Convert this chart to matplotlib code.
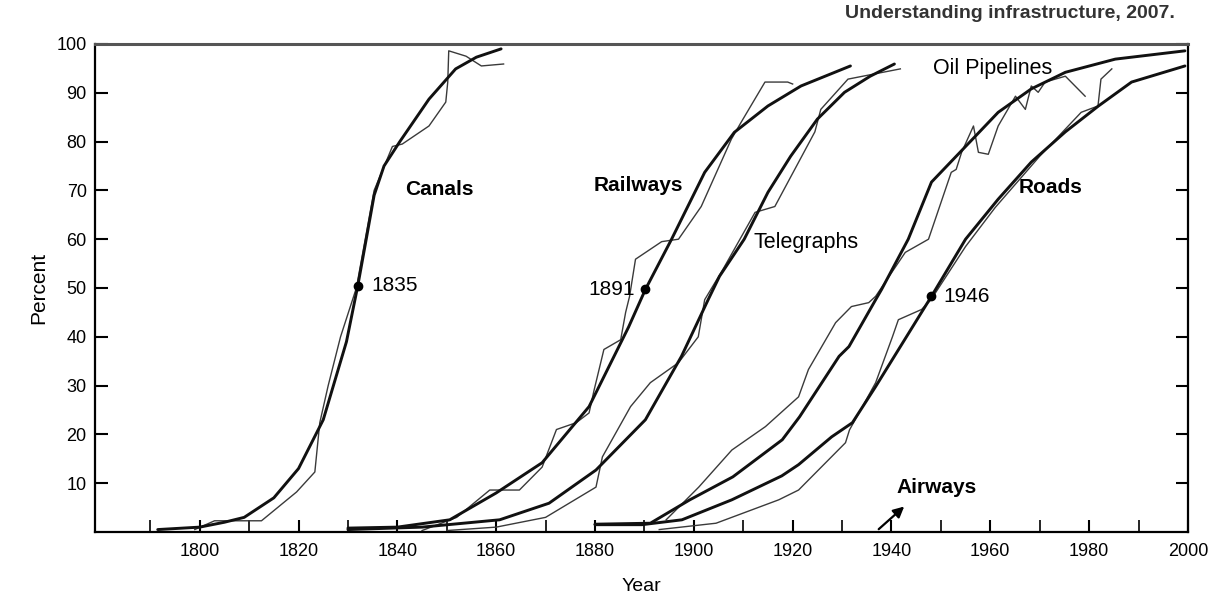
import numpy as np
import matplotlib
matplotlib.use('Agg')
import matplotlib.pyplot as plt

plt.rcParams['font.family'] = ['Liberation Sans', 'DejaVu Sans']

# Curvas ajustadas (trazo grueso) y datos observados (trazo fino), en % del maximo
canals_fit_year = [1791.5, 1800, 1805, 1809, 1815, 1820, 1825, 1829.7, 1832, 1833.7, 1835.3, 1837.3, 1840.5, 1846.4, 1851.8, 1856, 1861]
canals_fit_pct = [0.5, 1, 2, 3, 7, 13, 23, 39, 50.5, 60, 69, 75, 80, 88.7, 94.9, 97.3, 99]
canals_obs_year = [1799, 1803, 1812.5, 1819.6, 1823.3, 1824.3, 1826, 1828.5, 1831.7, 1833.5, 1835.3, 1839, 1841,
                   1846.4, 1849.8, 1850.2, 1850.4, 1853.9, 1857, 1861.5]
canals_obs_pct = [0.5, 2.3, 2.3, 8.2, 12.3, 22.4, 30, 40, 50, 60, 70, 79, 79.5,
                  83.2, 88.1, 92.2, 98.6, 97.5, 95.5, 95.9]

rail_fit_year = [1830, 1840, 1850.6, 1860, 1869.3, 1878.8, 1886.8, 1890.2, 1895.5, 1902.2, 1908.2, 1915, 1921.7, 1931.7]
rail_fit_pct = [0.8, 1, 2.5, 8, 14.2, 25.7, 42, 49.7, 60, 73.7, 81.9, 87.3, 91.4, 95.5]
rail_obs_year = [1845, 1852, 1858.7, 1864.7, 1869.3, 1872.2, 1876.2, 1878.8, 1879.8, 1881.8, 1885.2, 1886.2, 1887,
                 1888.2, 1893.5, 1896.9, 1901.5, 1907.6, 1909.6, 1914.4, 1919, 1920]
rail_obs_pct = [0.3, 3, 8.6, 8.6, 13.3, 21, 22.4, 24.4, 29, 37.4, 39.4, 45, 48.3,
                55.9, 59.5, 60, 66.7, 80.5, 84, 92.2, 92.2, 91.8]

tel_fit_year = [1830, 1845, 1860.7, 1870.7, 1880.2, 1890.2, 1897.5, 1902.9, 1905.2, 1910.2, 1915, 1919.6, 1925, 1930.5, 1935.7, 1940.6]
tel_fit_pct = [0.5, 1, 2.5, 5.9, 12.7, 23, 36, 47.6, 52.4, 60, 69.6, 77, 84.6, 90.1, 93.4, 95.9]
tel_obs_year = [1850, 1860, 1870, 1880.2, 1881.5, 1887.2, 1891.2, 1896.9, 1900.9, 1902.2, 1906, 1912.4,
                1916.4, 1924.5, 1925.7, 1931.2, 1933.2, 1941.8]
tel_obs_pct = [0.3, 1, 3, 9.2, 15.4, 25.7, 30.6, 34.7, 40, 47.6, 54, 65.5,
               66.7, 82, 86.6, 92.8, 93.2, 94.9]

oil_fit_year = [1880, 1891.2, 1899.2, 1907.9, 1917.9, 1921.4, 1929.4, 1931.4, 1936.8, 1938, 1943.4, 1948.1,
                1955, 1961.6, 1968.3, 1975.2, 1985.3, 1999.4]
oil_fit_pct = [1.6, 1.8, 6.6, 11.3, 18.9, 23.6, 36, 38, 47.6, 49.7, 60, 71.7,
               79, 86, 90.8, 94.2, 96.9, 98.6]
oil_obs_year = [1894.4, 1901, 1907.7, 1914.5, 1921.2, 1923.2, 1928.7, 1931.9, 1935.4, 1936.8, 1942.8, 1947.5,
                1952.1, 1953.1, 1954.2, 1956.6, 1957.6, 1959.6, 1961.6, 1965.1, 1967.1, 1968.3, 1969.7,
                1971.1, 1975.2, 1979.2]
oil_obs_pct = [2.5, 9.2, 16.8, 21.6, 27.7, 33.3, 42.9, 46.2, 47, 48.3, 57.3, 60,
               73.7, 74.3, 77.8, 83.2, 77.8, 77.4, 83.2, 89.3, 86.6, 91.4, 90.1,
               92.2, 93.4, 89.3]

roads_fit_year = [1880, 1889.5, 1897.6, 1907.7, 1917.8, 1921.2, 1927.9, 1932.1, 1936.8, 1948.1, 1955, 1961.6,
                  1968.3, 1975.2, 1981.9, 1988.6, 1999.4]
roads_fit_pct = [1.5, 1.5, 2.5, 6.6, 11.5, 13.8, 19.5, 22.4, 29.8, 48.3, 60, 68.2,
                 75.8, 82, 87.3, 92.2, 95.5]
roads_obs_year = [1893, 1904.5, 1917.2, 1921.2, 1930.7, 1931.5, 1936.8, 1940.2, 1941.4, 1946.1, 1948,
                  1955, 1961, 1970, 1978.4, 1981.8, 1982.4, 1984.6]
roads_obs_pct = [0.5, 1.8, 6.6, 8.6, 18.3, 20.9, 30.6, 40, 43.5, 45.6, 47.6,
                 58.5, 66.5, 77, 86, 87.3, 92.8, 94.9]

# Puntos de 50 % y sus etiquetas
mid_year = [1832, 1890.2, 1948.1]
mid_pct = [50.5, 49.7, 48.3]
mid_labels = ['1835', '1891', '1946']

fig = plt.figure(figsize=(12.16, 6.01), dpi=100)
ax = fig.add_axes([0.0781, 0.1148, 0.8988, 0.812])

thin = dict(color='#3a3a3a', lw=1.0, solid_joinstyle='round')
thick = dict(color='#111111', lw=2.1, solid_joinstyle='round', solid_capstyle='round')

series = [
    (canals_obs_year, canals_obs_pct, canals_fit_year, canals_fit_pct),
    (rail_obs_year, rail_obs_pct, rail_fit_year, rail_fit_pct),
    (tel_obs_year, tel_obs_pct, tel_fit_year, tel_fit_pct),
    (oil_obs_year, oil_obs_pct, oil_fit_year, oil_fit_pct),
    (roads_obs_year, roads_obs_pct, roads_fit_year, roads_fit_pct),
]
for oy, op, fy, fp in series:
    ax.plot(oy, op, **thin)
    ax.plot(fy, fp, **thick)

ax.plot(mid_year, mid_pct, 'o', color='black', ms=6)
ax.text(mid_year[0] + 2.7, mid_pct[0], mid_labels[0], fontsize=15, va='center', ha='left')
ax.text(mid_year[1] - 2.2, mid_pct[1], mid_labels[1], fontsize=15, va='center', ha='right')
ax.text(mid_year[2] + 2.5, mid_pct[2], mid_labels[2], fontsize=15, va='center', ha='left')

ax.text(1841.5, 70.2, 'Canals', fontsize=15, fontweight='bold', va='center')
ax.text(1879.8, 71, 'Railways', fontsize=15, fontweight='bold', va='center')
ax.text(1912.1, 59.3, 'Telegraphs', fontsize=15.5, va='center')
ax.text(1948.5, 94.9, 'Oil Pipelines', fontsize=15.5, va='center')
ax.text(1965.7, 70.6, 'Roads', fontsize=15, fontweight='bold', va='center')
ax.text(1941, 9.2, 'Airways', fontsize=15, fontweight='bold', va='center')
ax.annotate('', xy=(1943, 5.6), xytext=(1937, 0.2),
            arrowprops=dict(arrowstyle='-|>', color='black', lw=1.6, mutation_scale=16))

ax.set_xlim(1778.8, 2000)
ax.set_ylim(0, 100)
ax.set_xticks(np.arange(1800, 2001, 20))
ax.set_xticks(np.arange(1790, 2000, 10), minor=True)
ax.set_yticks(np.arange(10, 101, 10))
ax.tick_params(axis='both', which='both', direction='in', labelsize=13, top=False, right=True,
               length=9, width=1.5, pad=8)
ax.tick_params(axis='x', which='minor', length=9, width=1.2)
ax.tick_params(axis='y', pad=6)

for s in ax.spines.values():
    s.set_linewidth(1.6)
ax.spines['top'].set_color('#555555')
ax.spines['top'].set_linewidth(2.2)

ax.set_ylabel('Percent', fontsize=15, labelpad=6)
ax.set_xlabel('Year', fontsize=14, labelpad=13)

fig.text(0.966, 0.978, 'Understanding infrastructure, 2007.', fontsize=14, fontweight='bold',
         ha='right', va='center', color='#333333')

fig.savefig('out.png', dpi=100)
